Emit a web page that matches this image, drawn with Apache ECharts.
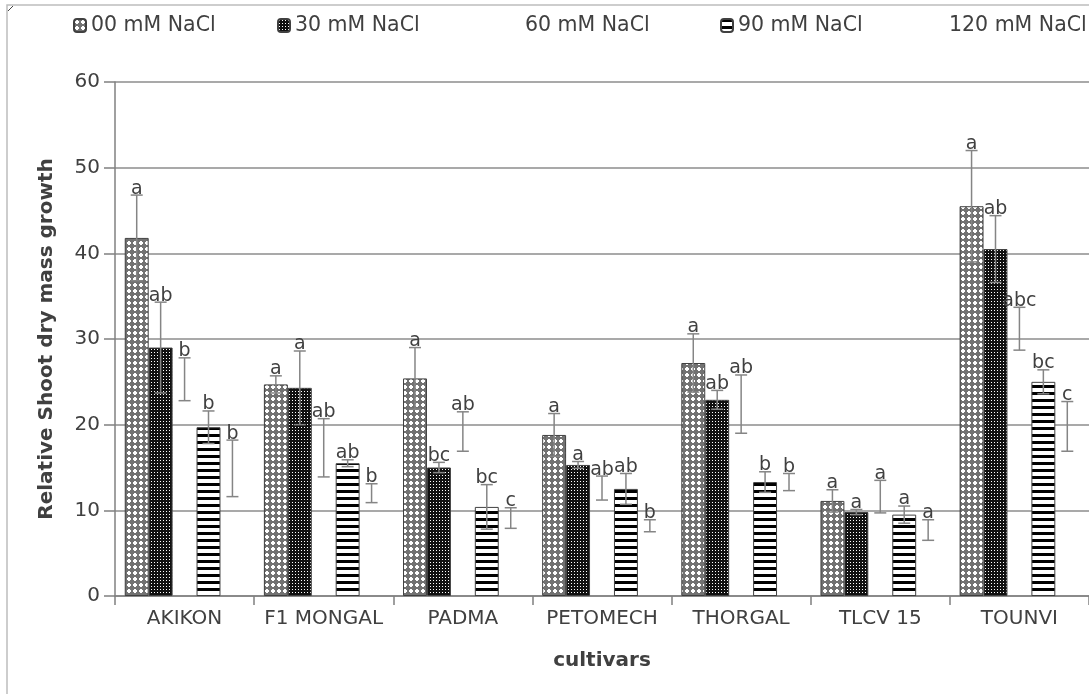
<!DOCTYPE html>
<html>
<head>
<meta charset="utf-8">
<script src="https://cdn.jsdelivr.net/npm/echarts@6/dist/echarts.min.js"></script>
<style>
html,body{margin:0;padding:0;background:#fff;}
#chart{width:1089px;height:694px;}
</style>
</head>
<body>
<div id="chart"></div>
<script>
// ---- data ----
const categories = ['AKIKON', 'F1 MONGAL', 'PADMA', 'PETOMECH', 'THORGAL', 'TLCV 15', 'TOUNVI'];
const seriesNames = ['00 mM NaCl', '30 mM NaCl', '60 mM NaCl', '90 mM NaCl', '120 mM NaCl'];
const yTicks = [0, 10, 20, 30, 40, 50, 60];

const mean00 = [41.8, 24.7, 25.4, 18.8, 27.2, 11.1, 45.5];
const err00  = [5.0, 1.0, 3.6, 2.5, 3.4, 1.3, 6.5];
const lbl00  = ['a', 'a', 'a', 'a', 'a', 'a', 'a'];

const mean30 = [29.0, 24.3, 15.0, 15.3, 22.9, 9.8, 40.5];
const err30  = [5.3, 4.3, 0.6, 0.4, 1.1, 0.3, 3.9];
const lbl30  = ['ab', 'a', 'bc', 'a', 'ab', 'a', 'ab'];

const mean60 = [25.3, 17.3, 19.2, 12.6, 22.4, 11.6, 31.2];
const err60  = [2.5, 3.4, 2.3, 1.4, 3.4, 1.9, 2.5];
const lbl60  = ['b', 'ab', 'ab', 'ab', 'ab', 'a', 'abc'];

const mean90 = [19.7, 15.5, 10.4, 12.5, 13.3, 9.5, 25.0];
const err90  = [1.9, 0.4, 2.6, 1.8, 1.2, 1.0, 1.4];
const lbl90  = ['b', 'ab', 'bc', 'ab', 'b', 'a', 'bc'];

const mean120 = [14.9, 12.0, 9.1, 8.2, 13.3, 7.7, 19.8];
const err120  = [3.3, 1.1, 1.2, 0.7, 1.0, 1.2, 2.9];
const lbl120  = ['b', 'b', 'c', 'b', 'b', 'a', 'c'];

const means = [mean00, mean30, mean60, mean90, mean120];
const errs = [err00, err30, err60, err90, err120];
const letters = [lbl00, lbl30, lbl60, lbl90, lbl120];

// ---- patterns ----
function makePattern(w, h, draw) {
  const c = document.createElement('canvas');
  c.width = w; c.height = h;
  const ctx = c.getContext('2d');
  draw(ctx, w, h);
  return { image: c, repeat: 'repeat' };
}
const patCross = makePattern(6, 6, (ctx) => {
  ctx.fillStyle = '#727272';
  ctx.fillRect(0, 0, 6, 6);
  ctx.fillStyle = '#ffffff';
  for (let y = 0; y < 6; y++) {
    for (let x = 0; x < 6; x++) {
      if (Math.abs(x - 2.5) + Math.abs(y - 2.5) <= 2.5) ctx.fillRect(x, y, 1, 1);
    }
  }
});
const patDots = makePattern(3, 3, (ctx) => {
  ctx.fillStyle = '#111111';
  ctx.fillRect(0, 0, 3, 3);
  ctx.fillStyle = '#ffffff';
  ctx.fillRect(1, 1, 1, 1);
});
const patStripes = makePattern(7, 7, (ctx) => {
  ctx.fillStyle = '#ffffff';
  ctx.fillRect(0, 0, 7, 7);
  ctx.fillStyle = '#000000';
  ctx.fillRect(0, 0, 7, 3);
});
const fills = [patCross, patDots, 'rgba(0,0,0,0)', patStripes, 'rgba(0,0,0,0)'];
const borders = ['#404040', '#404040', 'rgba(0,0,0,0)', '#404040', 'rgba(0,0,0,0)'];

const FONT = 'DejaVu Sans';
const TXT = '#404040';
const GAP = 0.14;

const chart = echarts.init(document.getElementById('chart'), null, { renderer: 'canvas' });

const barSeries = seriesNames.map((name, si) => ({
  name: name,
  type: 'bar',
  data: means[si],
  barGap: '0%',
  barCategoryGap: (GAP * 100) + '%',
  itemStyle: { color: fills[si], borderColor: borders[si], borderWidth: 1 },
  emphasis: { disabled: true },
  z: 2
}));

const errData = [];
for (let si = 0; si < 5; si++) {
  for (let ci = 0; ci < categories.length; ci++) {
    errData.push([ci, si, means[si][ci], errs[si][ci]]);
  }
}

const errSeries = {
  type: 'custom',
  name: 'errors',
  z: 5,
  silent: true,
  data: errData,
  encode: { x: 0, y: 2 },
  renderItem: function (params, api) {
    const ci = api.value(0), si = api.value(1), m = api.value(2), e = api.value(3);
    const c = api.coord([ci, m]);
    const band = api.size([1, 0])[0];
    const inner = band * (1 - GAP);
    const bw = inner / 5;
    const x = c[0] - inner / 2 + (si + 0.5) * bw;
    const yt = api.coord([ci, m + e])[1];
    const yb = api.coord([ci, m - e])[1];
    const cap = 6;
    const ls = { stroke: '#858585', lineWidth: 1.5 };
    return {
      type: 'group',
      children: [
        { type: 'line', shape: { x1: x, y1: yt, x2: x, y2: yb }, style: ls },
        { type: 'line', shape: { x1: x - cap, y1: yt, x2: x + cap, y2: yt }, style: ls },
        { type: 'line', shape: { x1: x - cap, y1: yb, x2: x + cap, y2: yb }, style: ls },
        { type: 'text', style: { x: x, y: yt + 3, text: letters[si][ci], align: 'center', verticalAlign: 'bottom',
            fontFamily: FONT, fontSize: 19, fill: TXT } }
      ]
    };
  }
};

const legendLefts = [68, 272, 502, 715, 926];
const legends = seriesNames.map((name, i) => ({
  data: [name],
  left: legendLefts[i],
  top: 10,
  itemWidth: 12,
  itemHeight: 13,
  selectedMode: false,
  textStyle: { fontFamily: FONT, fontSize: 20.5, color: TXT }
}));

chart.setOption({
  animation: false,
  backgroundColor: '#ffffff',
  legend: legends,
  grid: { left: 115, right: 0, top: 82, bottom: 98, containLabel: false, outerBoundsMode: 'none' },
  xAxis: {
    type: 'category',
    data: categories,
    name: 'cultivars',
    nameLocation: 'middle',
    nameGap: 55,
    nameTextStyle: { fontFamily: FONT, fontSize: 20, fontWeight: 'bold', color: TXT },
    axisLine: { lineStyle: { color: '#808080', width: 1.5 } },
    axisTick: { show: true, length: 9, lineStyle: { color: '#808080', width: 1.5 } },
    axisLabel: { fontFamily: FONT, fontSize: 20, color: TXT, margin: 13, interval: 0 }
  },
  yAxis: {
    type: 'value',
    min: yTicks[0],
    max: yTicks[yTicks.length - 1],
    interval: 10,
    name: 'Relative Shoot dry mass growth',
    nameLocation: 'middle',
    nameGap: 58,
    nameRotate: 90,
    nameTextStyle: { fontFamily: FONT, fontSize: 20, fontWeight: 'bold', color: TXT },
    axisLine: { show: true, lineStyle: { color: '#808080', width: 1.5 } },
    axisTick: { show: true, length: 11, lineStyle: { color: '#808080', width: 1.5 } },
    axisLabel: { fontFamily: FONT, fontSize: 20, color: TXT, margin: 15 },
    splitLine: { show: true, lineStyle: { color: '#8c8c8c', width: 1.5 } }
  },
  graphic: [
    { type: 'rect', shape: { x: 7, y: 5, width: 1200, height: 800 }, style: { fill: 'none', stroke: '#bdbdbd', lineWidth: 1.5 }, silent: true },
    { type: 'line', shape: { x1: 8, y1: 11, x2: 13, y2: 6 }, style: { stroke: '#444', lineWidth: 1 }, silent: true }
  ],
  series: barSeries.concat([errSeries])
});
</script>
</body>
</html>
